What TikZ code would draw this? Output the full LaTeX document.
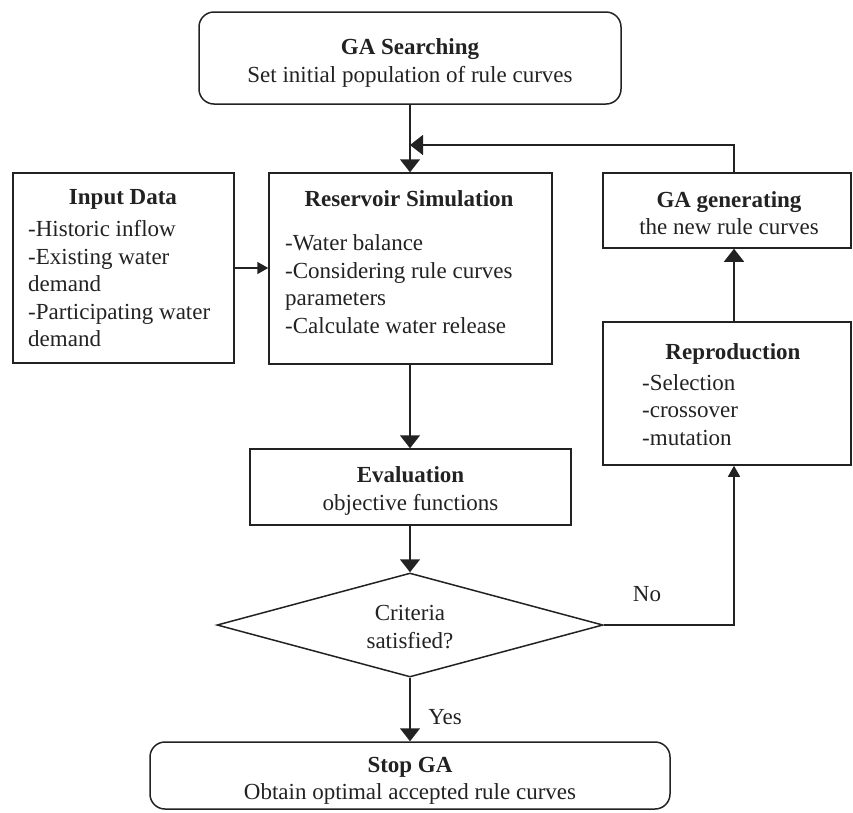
\documentclass[tikz,border=0pt]{standalone}
\usepackage{fontspec}
\setmainfont{Liberation Serif}
\usetikzlibrary{arrows.meta,shapes.geometric}
\definecolor{ink}{HTML}{222222}
\tikzset{
  txt/.style={font=\fontsize{23}{27.5}\selectfont, text=ink, inner sep=0pt, align=center},
  boxshape/.style={draw=ink, line width=1.5pt, inner sep=0pt, txt},
  rbox/.style={boxshape, rounded corners=15pt},
  big/.style={-{Triangle[length=13pt,width=20pt]}},
  small/.style={-{Triangle[length=11pt,width=12pt]}},
  conn/.style={draw=ink, line width=1.5pt},
}
\begin{document}
\begin{tikzpicture}[x=1pt,y=-1pt]
\path[use as bounding box] (0,0) rectangle (853,812);

% boxes
\node[rbox, minimum width=422pt, minimum height=92pt] (search) at (410,58) {};
\node[boxshape, minimum width=221pt, minimum height=190pt] (inp) at (123.5,268) {};
\node[boxshape, minimum width=283pt, minimum height=191pt] (res) at (410.5,268.5) {};
\node[boxshape, minimum width=248pt, minimum height=75pt] (gen) at (727,210.5) {};
\node[boxshape, minimum width=248pt, minimum height=143pt] (rep) at (727,393.5) {};
\node[boxshape, minimum width=321pt, minimum height=76pt] (eval) at (410.5,487) {};
\node[boxshape, shape=diamond, aspect=3.7, minimum width=386pt, minimum height=104pt] (dia) at (410,625) {};
\node[rbox, minimum width=520pt, minimum height=67pt] (stop) at (410,775.5) {};

% texts
\node[txt] (searchT) at (410,63)
  {\textbf{GA Searching}\\Set initial population of rule curves};
\node[txt] (genT) at (729,213)
  {\textbf{GA generating}\\the new rule curves};
\node[txt] (evalT) at (410.5,491)
  {\textbf{Evaluation}\\objective functions};
\node[txt] (diaT) at (410,627) {Criteria\\satisfied?};
\node[txt] (inpT) at (123,199) {\textbf{Input Data}};
\node[txt, align=left, anchor=west] (inpB) at (28,284)
  {-Historic inflow\\-Existing water\\demand\\-Participating water\\demand};
\node[txt] (resT) at (409,199) {\textbf{Reservoir Simulation}};
\node[txt, align=left, anchor=west] (resB) at (285,284)
  {-Water balance\\-Considering rule curves\\parameters\\-Calculate water release};
\node[txt] (repT) at (733,354) {\textbf{Reproduction}};
\node[txt, align=left, anchor=west] (repB) at (642,410)
  {-Selection\\-crossover\\-mutation};
\node[txt] (stopT) at (410,781)
  {\textbf{Stop GA}\\Obtain optimal accepted rule curves};

% connectors
\coordinate (fb) at (734,145);
\draw[conn, big] (search.south) -- (search.south |- res.north);
\draw[conn, big] (gen.north -| fb) -- (fb) -- (search.south |- fb);
\draw[conn, big] (rep.north -| fb) -- (gen.south -| fb);
\draw[conn, small] (inp.east) -- (inp.east -| res.west);
\draw[conn, big] (res.south -| dia.north) -- (eval.north -| dia.north);
\draw[conn, big] (eval.south -| dia.north) -- (dia.north);
\draw[conn, small] (dia.east) -| (rep.south -| fb);
\draw[conn, big] (dia.south) -- (stop.north -| dia.south);
\node[txt] (no) at (647,594) {No};
\node[txt] (yes) at (445,717) {Yes};
\end{tikzpicture}
\end{document}
